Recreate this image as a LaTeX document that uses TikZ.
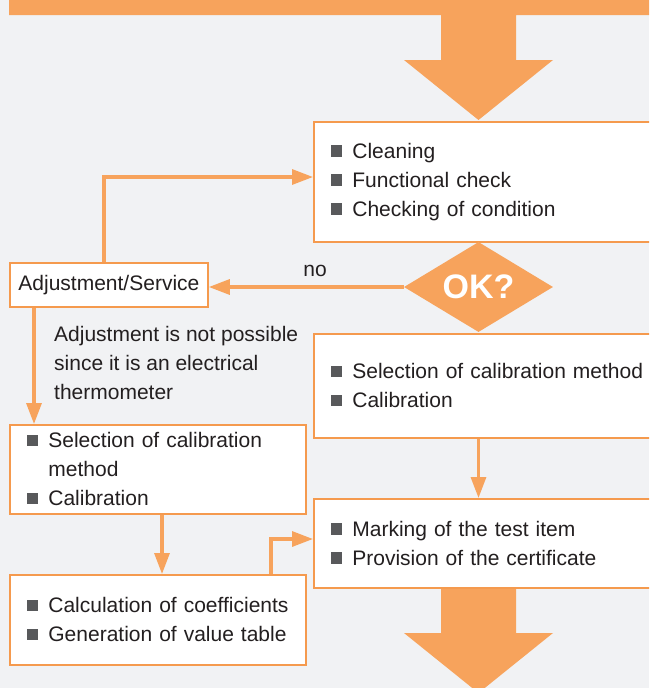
\documentclass[tikz,border=0pt]{standalone}
\usepackage{fontspec}
\setmainfont{Liberation Sans}
\usetikzlibrary{arrows.meta,shapes.geometric,calc}
\definecolor{bg}{HTML}{F1F2F4}
\definecolor{org}{HTML}{F7A35C}
\definecolor{orgline}{HTML}{F59A4E}
\definecolor{txt}{HTML}{231F20}
\definecolor{bulc}{HTML}{58595B}
\newcommand{\bul}{\textcolor{bulc}{\raisebox{1.5pt}{\rule{11.5pt}{11.5pt}}}\hspace{10pt}}
\begin{document}
\begin{tikzpicture}[x=1pt,y=-1pt,
  box/.style={draw=orgline, line width=1.8pt, fill=white, anchor=north west,
    inner xsep=17pt, inner ysep=0pt, align=left, text=txt,
    font=\fontsize{21}{29}\selectfont},
  adjbox/.style={draw=orgline, line width=1.8pt, fill=white, anchor=north west,
    inner sep=0pt, align=center, text=txt, minimum width=198pt, minimum height=44pt,
    font=\fontsize{21}{29}\selectfont},
  conn/.style={draw=org, line width=3.2pt, -{Triangle[length=21pt,width=15pt]}},
  lbl/.style={text=txt, font=\fontsize{21}{29}\selectfont, inner sep=0pt},
  bigarrow/.style={fill=org}]
\clip (0,0) rectangle (649,688);
\fill[bg] (0,0) rectangle (649,688);

% top bar and big arrows
\fill[bigarrow] (9,0) -- (660,0) -- (660,15) -- (516,15) -- (516,60) -- (553,60)
  -- (478.5,120) -- (404,60) -- (441,60) -- (441,15) -- (9,15) -- cycle;
\fill[bigarrow] (441,586) -- (516,586) -- (516,633) -- (553,633) -- (478.5,693)
  -- (404,633) -- (441,633) -- cycle;

% boxes
\node[box, minimum width=350pt, text width=316pt, minimum height=120pt] (b1) at (313,121)
  {\bul Cleaning\\ \bul Functional check\\ \bul Checking of condition};
\node[adjbox] (adj) at (9,262) {Adjustment/Service};
\node[box, minimum width=350pt, text width=316pt, minimum height=104pt] (b3) at (313,333)
  {\bul Selection of calibration method\\ \bul Calibration};
\node[box, minimum width=296pt, text width=262pt, minimum height=89pt] (b2) at (9,424)
  {\bul Selection of calibration\\ \hspace*{21.5pt}method\\ \bul Calibration};
\node[box, minimum width=350pt, text width=316pt, minimum height=89pt] (b4) at (313,498)
  {\bul Marking of the test item\\ \bul Provision of the certificate};
\node[box, minimum width=296pt, text width=262pt, minimum height=90pt] (b5) at (9,574)
  {\bul Calculation of coefficients\\ \bul Generation of value table};

\node[diamond, fill=org, minimum width=149pt, minimum height=90pt, inner sep=0pt,
  shape aspect=1.66, text=white, font=\fontsize{34}{34}\selectfont\bfseries] (ok) at (478.5,287) {OK?};

\node[lbl] (no) at (315,271) {no};
\node[lbl, anchor=west, align=left] (note) at (54,363)
  {Adjustment is not possible\\ since it is an electrical\\ thermometer};

% connectors
\coordinate (j1) at (104,177);
\coordinate (j2) at (34,0);
\coordinate (j3) at (162,0);
\coordinate (j4) at (271,539);
\draw[conn] (j1 |- adj.north) |- (b1.west |- j1);
\draw[conn] (ok.west) -- (adj.east |- ok.west);
\draw[conn] (adj.south -| j2) -- (b2.north -| j2);
\draw[conn] (b3.south -| ok) -- (b4.north -| ok);
\draw[conn] (b2.south -| j3) -- (b5.north -| j3);
\draw[conn] (j4 |- b5.north) |- (b4.west |- j4);
\end{tikzpicture}
\end{document}
